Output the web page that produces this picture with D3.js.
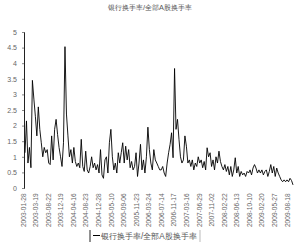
<!DOCTYPE html>
<html>
<head>
<meta charset="utf-8">
<script src="https://cdn.jsdelivr.net/npm/d3@7"></script>
<style>
  body { margin: 0; background: #fff; }
  text { font-family: "Liberation Sans", Arial, sans-serif; }
</style>
</head>
<body>
<script>
// 银行换手率 / 全部A股换手率
const seriesName = "银行换手率/全部A股换手率";
const chartTitle = "银行换手率/全部A股换手率";

const yTicks = [0, 0.5, 1, 1.5, 2, 2.5, 3, 3.5, 4, 4.5, 5];

const dateLabels = [
  "2003-01-28", "2003-03-19", "2003-08-22", "2003-12-19", "2004-04-16",
  "2004-08-23", "2004-12-28", "2005-05-10", "2005-09-06", "2005-11-23",
  "2006-03-24", "2006-07-14", "2006-11-17", "2007-03-16", "2007-06-29",
  "2007-11-02", "2008-02-22", "2008-06-13", "2008-10-10", "2009-02-20",
  "2009-05-27", "2009-08-18"
];

const ratio = [
  1.13, 2.15, 0.8, 1.3, 0.65, 3.45, 2.85, 2.3, 1.67, 2.6,
  1.88, 1.45, 1.0, 1.3, 1.13, 1.23, 0.8, 0.75, 1.67, 0.9,
  1.88, 2.2, 1.72, 1.3, 1.0, 0.69, 1.45, 4.53, 2.37, 1.67,
  1.0, 1.23, 0.8, 1.3, 0.85, 0.69, 0.8, 0.65, 1.56, 0.69,
  0.53, 1.18, 0.58, 0.48, 0.69, 1.0, 0.65, 0.8, 0.58, 0.75,
  0.48, 1.23, 0.42, 0.31, 0.9, 1.0, 0.48, 1.45, 1.88, 1.0,
  0.58, 0.8, 0.48, 1.13, 0.8, 1.13, 1.45, 0.8, 1.34, 0.9,
  1.23, 0.65, 0.85, 0.58, 0.69, 1.13, 0.37, 0.8, 1.4, 0.58,
  0.9, 0.48, 1.0, 1.95, 1.23, 0.8, 0.58, 1.23, 0.9, 0.8, 0.69, 0.58,
  0.58, 0.69, 0.48, 0.37, 0.8, 1.13, 1.4, 1.77, 0.97, 3.83,
  1.88, 2.2, 1.56, 1.0, 0.8, 0.9, 1.67, 1.34, 0.8, 0.9,
  0.69, 0.9, 0.58, 0.8, 0.69, 1.0, 0.8, 0.9, 0.65, 0.85,
  0.58, 1.29, 1.0, 1.13, 0.69, 0.9, 0.58, 1.0, 0.8, 1.18,
  0.85, 0.69, 0.58, 0.75, 0.53, 0.69, 0.42, 0.69, 0.37, 0.58,
  0.97, 0.48, 0.69, 0.37, 0.53, 0.42, 0.48, 0.37, 0.53, 0.48,
  0.58, 0.42, 0.64, 0.75, 0.64, 0.48, 0.58, 0.48, 0.58, 0.42,
  0.53, 0.58, 0.37, 0.53, 0.75, 0.48, 0.69, 0.37, 0.64, 0.48,
  0.37, 0.26, 0.2, 0.26, 0.2, 0.26, 0.2, 0.31, 0.24, 0.1
];

const width = 300, height = 242;

const svg = d3.select("body").append("svg")
    .attr("width", width)
    .attr("height", height);

const x = d3.scaleLinear()
    .domain([0, ratio.length - 1])
    .range([25, 293]);

const xLab = d3.scalePoint()
    .domain(dateLabels)
    .range([23, 287]);

const y = d3.scaleLinear()
    .domain([0, 5])
    .range([188, 32]);

// title
svg.append("text")
    .attr("x", 150)
    .attr("y", 10)
    .attr("text-anchor", "middle")
    .attr("font-family", "Noto Sans CJK SC")
    .attr("font-size", 7.3)
    .attr("fill", "#555")
    .text(chartTitle);

// y axis
const yAxis = svg.append("g")
    .attr("transform", "translate(24,0)")
    .call(d3.axisLeft(y).tickValues(yTicks).tickSize(2).tickPadding(5)
        .tickFormat(d3.format("")));
yAxis.select(".domain").attr("stroke", "#222");
yAxis.selectAll(".tick line").attr("stroke", "#888");
yAxis.selectAll("text").attr("font-size", 7).attr("fill", "#666");

// x labels (rotated, no axis line)
const xAxis = svg.append("g")
    .attr("transform", "translate(0,192)")
    .call(d3.axisBottom(xLab).tickSize(0));
xAxis.select(".domain").remove();
xAxis.selectAll("text")
    .attr("font-size", 6.6)
    .attr("fill", "#666")
    .attr("text-anchor", "end")
    .attr("transform", "rotate(-90)")
    .attr("dx", "-0.2em")
    .attr("dy", "0.32em")
    .attr("x", 0)
    .attr("y", 0);

// the line
const line = d3.line()
    .x((d, i) => x(i))
    .y(d => y(d));

svg.append("path")
    .datum(ratio)
    .attr("fill", "none")
    .attr("stroke", "#000")
    .attr("stroke-width", 0.9)
    .attr("d", line);

// legend
const leg = svg.append("g");
leg.append("line")
    .attr("x1", 90).attr("x2", 90).attr("y1", 230).attr("y2", 242)
    .attr("stroke", "#222");
leg.append("line")
    .attr("x1", 200).attr("x2", 200).attr("y1", 230).attr("y2", 242)
    .attr("stroke", "#bbb");
leg.append("line")
    .attr("x1", 93).attr("x2", 100).attr("y1", 235.5).attr("y2", 235.5)
    .attr("stroke", "#000");
leg.append("text")
    .attr("x", 101)
    .attr("y", 238.5)
    .attr("font-family", "Noto Sans CJK SC")
    .attr("font-size", 8.2)
    .attr("fill", "#555")
    .text(seriesName);
</script>
</body>
</html>
